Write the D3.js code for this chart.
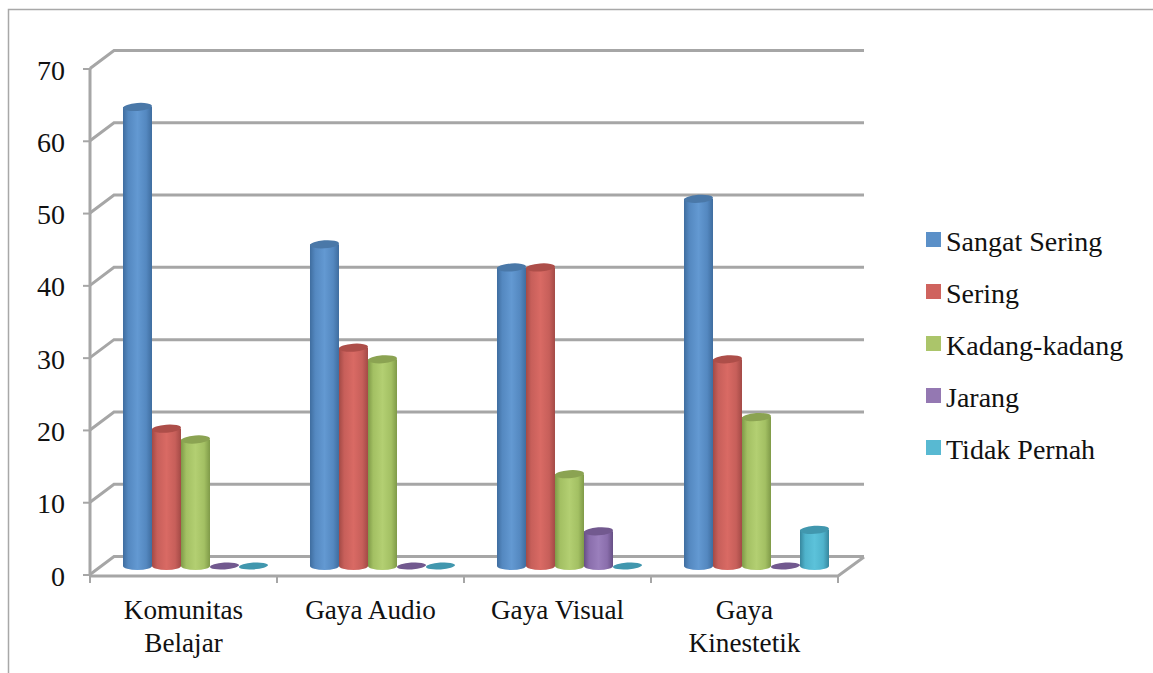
<!DOCTYPE html>
<html>
<head>
<meta charset="utf-8">
<style>
html,body{margin:0;padding:0;background:#fff}
svg{display:block}
text{font-family:"Liberation Serif",serif;fill:#111}
</style>
<script src="https://cdn.jsdelivr.net/npm/d3@7"></script>
</head>
<body>
<svg id="chart" width="1153" height="673"></svg>
<script>
// Categories, series and values of the cylinder chart
const categories = [["Komunitas","Belajar"],["Gaya Audio"],["Gaya Visual"],["Gaya","Kinestetik"]];
const seriesNames = ["Sangat Sering","Sering","Kadang-kadang","Jarang","Tidak Pernah"];
const sangatSering = [63.5,44.5,41.3,50.8];
const sering = [19,30.2,41.3,28.6];
const kadangKadang = [17.5,28.6,12.7,20.6];
const jarang = [0,0,4.8,0];
const tidakPernah = [0,0,0,5];
const seriesValues = [sangatSering,sering,kadangKadang,jarang,tidakPernah];
const yTicks = [0,10,20,30,40,50,60,70];

// Base colour, light centre, dark edge and cap tone per series
const palette = [
  {base:"#5488c0",mid:"#6399d2",edge:"#3f6d9f",cap:"#4a78a8",key:"#5b90c8"},
  {base:"#c75f5a",mid:"#d96a64",edge:"#a34a46",cap:"#ad4e49",key:"#cf635e"},
  {base:"#a3c063",mid:"#b3cf72",edge:"#7f9a48",cap:"#8ba352",key:"#abc56a"},
  {base:"#8a6eac",mid:"#9a7fbc",edge:"#664f85",cap:"#72598f",key:"#9478b2"},
  {base:"#4fb3cc",mid:"#5cc2da",edge:"#37879e",cap:"#4197ae",key:"#58b9d2"}
];

const svg = d3.select("#chart");
const grey = "#a6a6a6";
const depth = {dx:24,dy:-18};

const x = d3.scaleBand().domain(d3.range(categories.length)).range([90,838]);
const y = d3.scaleLinear().domain([0,70]).range([575,69]);
const inner = d3.scaleBand().domain(d3.range(seriesNames.length))
  .range([0,x.bandwidth()]).paddingOuter(0.724).paddingInner(0);

// Frame around the chart area (open at the right and bottom)
svg.append("path").attr("d","M8.5,673V9.5H1153").attr("fill","none").attr("stroke","#a8a8a8").attr("stroke-width",1.5);

// Walls: gridlines on the back wall joined to the side wall
const walls = svg.append("g").attr("fill","none").attr("stroke",grey).attr("stroke-width",3);
yTicks.forEach(t=>{
  walls.append("path").attr("d",`M${x.range()[0]},${y(t)-0.5}l${depth.dx},${depth.dy}H864`);
  walls.append("line").attr("x1",83).attr("x2",90).attr("y1",y(t)).attr("y2",y(t)).attr("stroke-width",2);
});
walls.append("line").attr("x1",90).attr("x2",90).attr("y1",y(70)).attr("y2",y(0));

// Floor edge and category ticks
walls.append("path").attr("d",`M90,${y(0)+1}H838L864,${y(0)-18}`);
d3.range(categories.length+1).forEach(i=>{
  const px = i<categories.length ? x(i) : x.range()[1];
  walls.append("line").attr("x1",px).attr("x2",px).attr("y1",y(0)).attr("y2",y(0)+8).attr("stroke-width",2);
});

// Horizontal shading across each cylinder
const defs = svg.append("defs");
palette.forEach((c,i)=>{
  const g = defs.append("linearGradient").attr("id","cyl"+i);
  [[0,c.edge],[0.18,c.base],[0.5,c.mid],[0.8,c.base],[1,c.edge]].forEach(([o,col])=>
    g.append("stop").attr("offset",o).attr("stop-color",col));
});

// Cylinders, drawn left to right so neighbours overlap as in a 3D column chart
const bars = svg.append("g");
const floorShift = {dx:12,dy:-9};
categories.forEach((_,ci)=>{
  seriesValues.forEach((vals,si)=>{
    const v = vals[ci];
    const left = x(ci)+inner(si)+floorShift.dx;
    const w = inner.bandwidth();
    const rx = w/2, ry = 4;
    const cx = left+rx;
    const yb = y(0)+floorShift.dy;
    const yt = y(v)+floorShift.dy;
    if(v===0){
      bars.append("ellipse").attr("cx",cx).attr("cy",yb).attr("rx",rx).attr("ry",ry-0.6)
        .attr("fill",palette[si].cap).attr("transform",`rotate(-4 ${cx} ${yb})`);
      return;
    }
    bars.append("path")
      .attr("d",`M${left},${yt}V${yb}A${rx},${ry} 0 0 0 ${left+w},${yb}V${yt}Z`)
      .attr("fill",`url(#cyl${si})`);
    bars.append("ellipse").attr("cx",cx).attr("cy",yt).attr("rx",rx).attr("ry",ry)
      .attr("fill",palette[si].cap).attr("transform",`rotate(-4 ${cx} ${yt})`);
  });
});

// Value axis labels
svg.append("g").selectAll("text").data(yTicks).join("text")
  .attr("x",65).attr("y",d=>y(d)+10.5).attr("text-anchor","end")
  .attr("font-size",28).text(d=>d);

// Category labels, one or two lines
categories.forEach((lines,i)=>{
  const t = svg.append("text").attr("text-anchor","middle").attr("font-size",27.2)
    .attr("x",x(i)+x.bandwidth()/2).attr("y",619);
  lines.forEach((s,j)=>t.append("tspan").attr("x",x(i)+x.bandwidth()/2).attr("dy",j?33:0).text(s));
});

// Legend
const legendY = d3.scaleLinear().domain([0,4]).range([243,451]);
const legend = svg.append("g");
seriesNames.forEach((name,i)=>{
  legend.append("rect").attr("x",926).attr("y",legendY(i)-11).attr("width",15).attr("height",15)
    .attr("fill",palette[i].key);
  legend.append("text").attr("x",946).attr("y",legendY(i)+8).attr("font-size",28).text(name);
});
</script>
</body>
</html>
